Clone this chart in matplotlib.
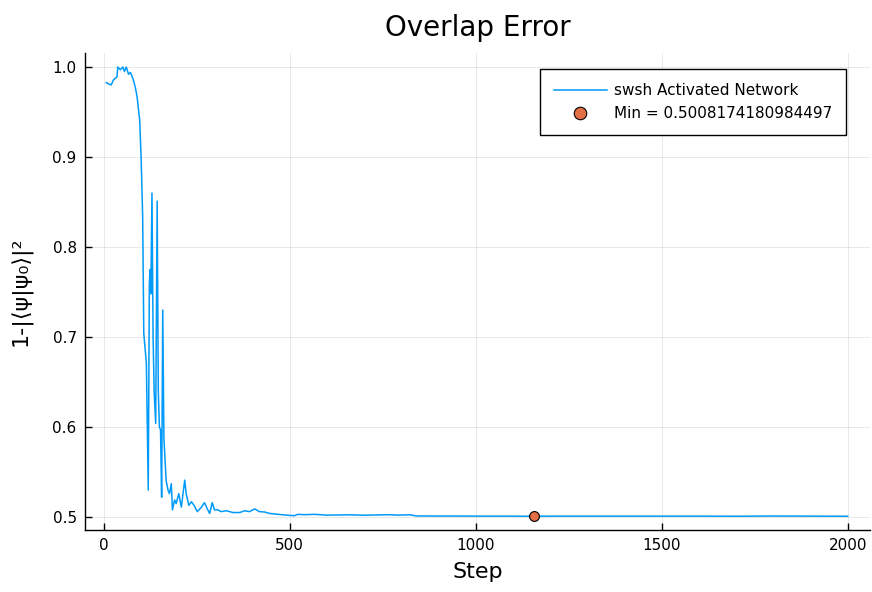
import matplotlib
matplotlib.use("Agg")
import matplotlib.pyplot as plt
from matplotlib.lines import Line2D

# Training history: overlap error per optimisation step
steps = [7, 20, 27, 36, 38, 45, 52, 56, 61, 67, 72, 79, 85, 90, 97, 101, 105,
         108, 115, 120, 123, 125, 127, 130, 133, 136, 140, 144, 147, 150, 153,
         156, 159, 162, 168, 173, 177, 182, 185, 191, 195, 202, 209, 218, 222,
         229, 236, 243, 252, 263, 271, 280, 285, 292, 298, 307, 316, 330, 348,
         366, 379, 392, 406, 419, 433, 446, 469, 495, 513, 522, 540, 567, 575,
         600, 661, 700, 769, 790, 823, 841, 900, 950, 1000, 1050, 1100, 1158,
         1200, 1300, 1400, 1500, 1600, 1700, 1800, 1900, 2000]
overlap_error = [0.9826, 0.980, 0.986, 0.989, 1.000, 0.997, 1.000, 0.995, 1.000,
                 0.992, 0.994, 0.987, 0.978, 0.967, 0.941, 0.897, 0.834,
                 0.704, 0.671, 0.530, 0.760, 0.775, 0.748, 0.860, 0.700, 0.638,
                 0.604, 0.851, 0.640, 0.600, 0.597, 0.522, 0.730, 0.589, 0.541,
                 0.530, 0.526, 0.537, 0.508, 0.519, 0.515, 0.526, 0.511, 0.541,
                 0.526, 0.513, 0.517, 0.513, 0.506, 0.511, 0.516, 0.508, 0.504,
                 0.516, 0.508, 0.508, 0.506, 0.507, 0.505, 0.505, 0.507, 0.506,
                 0.509, 0.506, 0.5056, 0.504, 0.503, 0.502, 0.5015, 0.503, 0.5026,
                 0.503, 0.5028, 0.5021, 0.5025, 0.5020, 0.5026, 0.5021, 0.5025,
                 0.5012, 0.5011, 0.5011, 0.5010, 0.5010, 0.5010,
                 0.5008174180984497, 0.5010, 0.5010, 0.5010, 0.5010, 0.5010,
                 0.5009, 0.5011, 0.5010, 0.5009]

min_step = 1158
min_value = 0.5008174180984497

x_ticks = [0, 500, 1000, 1500, 2000]
y_ticks = [0.5, 0.6, 0.7, 0.8, 0.9, 1.0]

blue = "#009AFA"
orange = "#E36F47"

plt.rcParams["font.family"] = ["DejaVu Sans", "Noto Sans"]

fig = plt.figure(figsize=(8.72, 5.92), dpi=100)
W, H = 872, 592
ax = fig.add_axes([85 / W, (H - 530) / H, (870 - 85) / W, (530 - 53) / H])

ax.plot(steps, overlap_error, color=blue, lw=1.1, zorder=3)
ax.scatter([min_step], [min_value], s=50, color=orange, edgecolors="black",
           linewidths=0.8, zorder=4)

ax.set_xlim(-50, 2060)
ax.set_ylim(0.4856, 1.0156)
ax.set_xticks(x_ticks)
ax.set_yticks(y_ticks)
ax.set_xticklabels([str(t) for t in x_ticks])
ax.set_yticklabels([f"{t:.1f}" for t in y_ticks])

ax.grid(True, color="black", alpha=0.1, lw=0.6)
ax.set_axisbelow(True)
for side in ("top", "right"):
    ax.spines[side].set_visible(False)
for side in ("left", "bottom"):
    ax.spines[side].set_linewidth(1.0)
ax.tick_params(direction="in", length=5, width=1.0, labelsize=11, pad=6)

ax.set_title("Overlap Error", fontsize=20, pad=12)
ax.set_xlabel("Step", fontsize=16, labelpad=6)
ax.set_ylabel("1-|⟨ψ|ψ₀⟩|²", fontsize=16, labelpad=14)

handles = [
    Line2D([], [], color=blue, lw=1.1),
    Line2D([], [], marker="o", ls="none", markersize=9,
           markerfacecolor=orange, markeredgecolor="black", markeredgewidth=0.8),
]
labels = ["swsh Activated Network", f"Min = {repr(min_value)}"]
leg = ax.legend(handles, labels, loc="upper right", bbox_to_anchor=(0.979, 0.982),
                fontsize=11, frameon=True, fancybox=False, edgecolor="black",
                framealpha=1, borderpad=0.9, handlelength=3.5, handletextpad=0.45,
                labelspacing=0.55)
leg.get_frame().set_linewidth(1.0)

fig.savefig("out.png", dpi=100)
